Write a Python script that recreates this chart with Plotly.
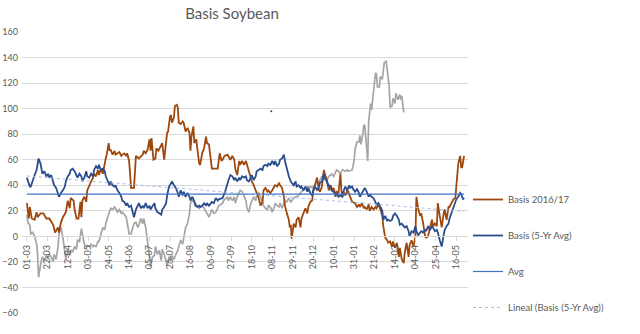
import numpy as np
import plotly.graph_objects as go

# ---------------- data (day offsets from 01-03-2016, values) ----------------
tick_days = [0, 21, 42, 63, 84, 105, 126, 147, 168, 189, 210, 231, 252, 273, 294,
             315, 336, 357, 378, 399, 420, 441]
tick_labels = ["01-03", "22-03", "12-04", "03-05", "24-05", "14-06", "05-07", "26-07",
               "16-08", "06-09", "27-09", "18-10", "08-11", "29-11", "20-12", "10-01",
               "31-01", "21-02", "14-03", "04-04", "25-04", "16-05"]

brown_days = [0, 2, 3, 5, 8, 10, 11, 14, 17, 20, 23, 25, 27, 29, 32, 33, 35, 37, 40, 42, 44, 45,
              48, 49, 51, 53, 55, 56, 57, 59, 61, 62, 64, 66, 68, 69, 71, 73, 74, 76, 78, 80,
              81, 82, 84, 85, 86, 88, 90, 91, 93, 95, 97, 98, 100, 102, 103, 105, 107, 110,
              112, 115, 119, 120, 122, 124, 126, 127, 128, 130, 132, 133, 135, 138, 139, 141,
              143, 144, 145, 147, 148, 149, 151, 152, 154, 155, 156, 158, 160, 161, 163, 165,
              167, 168, 169, 171, 172, 174, 175, 177, 178, 180, 182, 184, 185, 187, 189, 190,
              194, 196, 198, 200, 201, 203, 206, 208, 209, 211, 213, 214, 216, 218, 219, 221,
              223, 225, 226, 228, 230, 231, 233, 235, 236, 238, 240, 242, 243, 245, 247, 248,
              250, 252, 254, 255, 257, 259, 260, 262, 264, 265, 267, 269, 270, 271, 272, 273,
              274, 276, 277, 279, 281, 282, 284, 286, 288, 289, 291, 293, 294, 296, 298, 300,
              301, 303, 305, 306, 308, 310, 312, 313, 315, 317, 318, 320, 322, 323, 324, 325,
              327, 329, 330, 334, 337, 339, 341, 342, 344, 346, 347, 349, 351, 352, 354, 356,
              358, 359, 361, 363, 365, 366, 368, 370, 371, 373, 375, 376, 378, 380, 382, 383,
              385, 387, 388, 390, 392, 393, 395, 397, 399, 400, 402, 404, 405, 407, 409, 410,
              412, 414, 416, 417, 419, 421, 422, 424, 426, 428, 429, 431, 433, 434, 436, 438,
              440, 441, 443, 445, 446, 447, 449]
brown_vals = [26, 14, 23, 14, 13, 19, 15, 18, 18, 14, 14, 11, 9, 3, 7, 3, 11, 15, 19, 28, 22, 30,
              28, 21, 14, 14, 27, 15, 28, 31, 27, 36, 40, 43, 46, 49, 47, 52, 48, 53, 49, 59,
              61, 64, 73, 67, 68, 64, 67, 64, 65, 66, 63, 64, 65, 63, 65, 59, 38, 38,
              63, 61, 64, 67, 65, 68, 76, 67, 77, 60, 61, 69, 67, 72, 73, 60,
              73, 81, 82, 94, 95, 89, 93, 102, 103, 101, 89, 88, 90, 89, 82, 85,
              81, 67, 78, 86, 73, 76, 69, 57, 56, 65, 69, 78, 73, 72, 59, 53,
              53, 53, 65, 59, 60, 63, 64, 61, 60, 63, 60, 53, 48, 59, 56, 59,
              56, 59, 56, 52, 46, 43, 40, 36, 34, 30, 24, 27, 36, 38, 35, 36,
              34, 36, 39, 40, 39, 42, 40, 38, 31, 24, 18, 13, 7, 9, -2, 5,
              10, 7, 13, 15, 7, 14, 18, 22, 18, 23, 27, 28, 35, 40, 46, 36,
              35, 39, 52, 49, 44, 36, 40, 36, 38, 31, 35, 34, 49, 36, 31, 35,
              32, 36, 35, 27, 26, 23, 25, 23, 26, 22, 23, 21, 25, 20, 23, 21,
              23, 22, 25, 21, 16, 8, -1, -3, -5, -4, -8, -4, -9, -5, -16, -9,
              -18, -21, -13, -5, -16, -7, -3, -8, 0, 31, 21, 16, 18, 10, 0, -1,
              0, 7, 13, 8, 10, 8, 26, 16, 7, 18, 21, 13, 23, 23, 26, 29,
              30, 42, 57, 63, 54, 54, 63]

blue_days = [0, 1, 3, 4, 6, 8, 10, 11, 12, 14, 15, 16, 18, 20, 22, 23, 25, 27, 28, 30, 32, 33,
             35, 37, 39, 40, 42, 44, 45, 47, 49, 51, 52, 54, 56, 57, 59, 61, 62, 64, 66, 68,
             69, 71, 73, 74, 76, 78, 80, 81, 83, 85, 86, 88, 90, 91, 93, 95, 97, 98, 100, 102,
             103, 105, 107, 109, 110, 112, 114, 115, 117, 119, 120, 122, 124, 126, 127, 129,
             131, 132, 134, 136, 138, 139, 141, 143, 144, 146, 148, 149, 151, 153, 155, 156,
             158, 160, 161, 163, 165, 167, 168, 170, 172, 173, 175, 177, 178, 180, 182, 184,
             185, 187, 189, 190, 192, 194, 196, 197, 201, 204, 207, 209, 211, 213, 214, 216,
             218, 219, 221, 223, 225, 226, 228, 230, 231, 233, 235, 236, 238, 240, 242, 243,
             245, 247, 248, 250, 252, 254, 255, 257, 259, 260, 262, 264, 265, 267, 269, 271,
             272, 274, 276, 277, 279, 281, 282, 284, 286, 288, 289, 291, 293, 294, 296, 298,
             300, 301, 303, 305, 306, 308, 310, 312, 313, 315, 317, 318, 320, 322, 324, 325,
             327, 329, 331, 332, 334, 335, 337, 339, 341, 342, 344, 346, 347, 349, 351, 352,
             354, 356, 358, 359, 361, 363, 365, 366, 368, 370, 371, 373, 375, 376, 378, 380,
             382, 383, 385, 387, 388, 390, 392, 393, 395, 397, 399, 400, 402, 404, 405, 407,
             409, 410, 412, 414, 416, 417, 419, 421, 422, 424, 426, 428, 429, 431, 433, 434,
             436, 438, 440, 441, 443, 445, 446, 448, 449]
blue_vals = [46, 44, 39, 39, 44, 48, 52, 56, 61, 57, 53, 49, 51, 47, 49, 46, 48, 43, 40, 38, 34, 31,
             34, 36, 39, 43, 47, 49, 52, 53, 51, 48, 46, 49, 47, 43, 46, 51, 47, 46, 49, 47,
             52, 55, 53, 56, 52, 53, 51, 47, 44, 40, 43, 40, 39, 40, 36, 34, 31, 28, 27, 24,
             26, 23, 24, 19, 15, 21, 24, 26, 22, 24, 22, 26, 22, 24, 21, 24,
             26, 22, 19, 18, 17, 21, 23, 26, 32, 39, 42, 43, 40, 38, 34, 31,
             36, 32, 35, 31, 34, 31, 28, 31, 27, 24, 23, 24, 23, 24, 26, 24,
             26, 24, 26, 27, 26, 30, 28, 29, 30, 36, 44, 48, 47, 44, 46, 43,
             46, 44, 47, 46, 47, 44, 43, 46, 48, 44, 47, 51, 52, 53, 52, 55,
             56, 55, 57, 56, 59, 56, 59, 55, 57, 60, 61, 64, 59, 52, 47, 43,
             42, 40, 43, 39, 40, 38, 39, 36, 39, 35, 38, 34, 32, 36, 39, 36,
             39, 42, 43, 49, 46, 43, 40, 39, 36, 35, 32, 34, 31, 32, 31, 35,
             39, 36, 40, 38, 39, 37, 35, 37, 34, 31, 34, 37, 38, 35, 31, 33,
             31, 30, 27, 25, 26, 23, 20, 13, 16, 12, 13, 12, 13, 16, 18, 16,
             13, 9, 10, 8, 7, 8, 4, 0, 4, 3, 8, 4, 1, 3, 4, 3,
             5, 4, 8, 5, 8, 7, 4, 5, 3, -3, -8, 1, 5, 8, 10, 14,
             18, 22, 26, 29, 31, 34, 33, 29, 30]

gray_days = [0, 1, 3, 4, 6, 8, 10, 11, 12, 14, 15, 16, 18, 20, 22, 23, 25, 27, 28, 30, 32, 33,
             35, 37, 39, 40, 42, 44, 45, 47, 49, 51, 52, 54, 56, 57, 59, 61, 62, 64, 66, 68,
             69, 71, 73, 74, 76, 78, 80, 81, 83, 85, 86, 88, 90, 91, 93, 95, 97, 98, 100, 102,
             103, 105, 107, 109, 110, 112, 114, 115, 117, 119, 120, 122, 124, 126, 127, 129,
             131, 132, 134, 136, 138, 139, 141, 143, 144, 146, 148, 149, 151, 153, 155, 156,
             158, 160, 161, 163, 165, 167, 168, 170, 172, 173, 175, 177, 178, 180, 182, 184,
             185, 187, 189, 190, 192, 194, 196, 197, 201, 202, 206, 207, 209, 211, 213, 214,
             216, 218, 219, 221, 223, 225, 226, 228, 230, 231, 233, 235, 236, 238, 240, 242,
             243, 245, 247, 248, 250, 252, 254, 255, 257, 259, 260, 262, 264, 265, 267, 269,
             271, 272, 274, 276, 277, 279, 281, 282, 284, 286, 288, 289, 291, 293, 294, 296,
             298, 300, 301, 303, 305, 306, 308, 310, 312, 313, 315, 317, 318, 320, 322, 324,
             325, 327, 329, 330, 334, 336, 337, 339, 341, 342, 343, 345, 346, 347, 348, 350,
             351, 352, 353, 354, 356, 358, 359, 360, 362, 363, 365, 366, 367, 369, 370, 372,
             373, 375, 376, 378, 379, 381, 383, 384, 385, 386, 387]
gray_vals = [17, 11, 9, 2, 3, 0, -6, -14, -32, -22, -18, -16, -19, -15, -18, -14, -16, -20, -14, -18, -8, 2,
             7, -1, -14, -18, -11, -15, -11, -12, -8, -10, -3, -4, 6, 2, -6, -8, -7, -8, -6, -8,
             -7, -8, -4, -4, 2, 7, 5, 10, 15, 19, 22, 21, 23, 22, 19, 21, 18, 19, 17, 15,
             11, 2, 2, 7, 10, 11, 7, 9, 14, 10, 14, 7, -3, -16, -24, -16,
             -15, -8, -14, -11, -19, -10, -14, -22, -23, -16, -19, -15, -18, -14, -11, -8,
             -3, -6, -1, 7, 10, 18, 26, 28, 27, 26, 24, 22, 23, 24, 22, 19,
             18, 15, 19, 21, 18, 19, 22, 24, 26, 28, 31, 28, 31, 28, 31, 26,
             31, 35, 36, 35, 31, 28, 22, 19, 26, 28, 31, 28, 32, 34, 31, 27,
             24, 22, 21, 24, 23, 19, 23, 26, 24, 23, 26, 22, 26, 28, 27, 30,
             27, 28, 30, 31, 31, 32, 34, 35, 36, 38, 39, 38, 39, 38, 39, 40,
             43, 42, 44, 47, 44, 46, 44, 47, 48, 49, 47, 51, 52, 51, 49, 52,
             52, 51, 52, 51, 52, 59, 68, 74, 74, 79, 72, 80, 87, 87, 78, 59,
             90, 98, 104, 99, 113, 128, 127, 117, 117, 125, 123, 128, 136, 137, 131, 118,
             101, 102, 108, 104, 112, 107, 111, 107, 110, 101, 97]

avg_value = 33
stray_day = [251]
stray_val = [98]

# ---------------- styling ----------------
FONT = "Lato, 'Open Sans', sans-serif"
TXT = "#595959"
GRID = "#d9d9d9"
BROWN = "#9E480E"
BLUE = "#2B4D8E"
LIGHTBLUE = "#4472C4"
GRAY = "#A5A5A5"
TREND = "#A9BEE0"

# linear trend of the 5-yr avg series
coef = np.polyfit(blue_days, blue_vals, 1)
trend_x = [blue_days[0], blue_days[-1]]
trend_y = list(np.polyval(coef, trend_x))

fig = go.Figure()
fig.add_trace(go.Scatter(x=gray_days, y=gray_vals, mode="lines", name="Basis 2015/16",
                         line=dict(color=GRAY, width=1.7), showlegend=False))
fig.add_trace(go.Scatter(x=brown_days, y=brown_vals, mode="lines", name="Basis 2016/17",
                         line=dict(color=BROWN, width=1.8), legendgroup="a"))
fig.add_trace(go.Scatter(x=blue_days, y=blue_vals, mode="lines", name="Basis (5-Yr Avg)",
                         line=dict(color=BLUE, width=1.8), legendgroup="b"))
fig.add_trace(go.Scatter(x=[blue_days[0], blue_days[-1]], y=[avg_value, avg_value],
                         mode="lines", name="Avg", line=dict(color=LIGHTBLUE, width=1.2),
                         legendgroup="c"))
fig.add_trace(go.Scatter(x=trend_x, y=trend_y, mode="lines",
                         name="Lineal (Basis (5-Yr Avg))",
                         line=dict(color=TREND, width=1, dash="dot"), legendgroup="d"))
fig.add_trace(go.Scatter(x=stray_day, y=stray_val, mode="markers", showlegend=False,
                         marker=dict(color=BLUE, size=2)))

ymin, ymax = -60, 160
fig.update_layout(
    width=640, height=334,
    margin=dict(l=22, r=172, t=32, b=21),
    paper_bgcolor="white", plot_bgcolor="white",
    font=dict(family=FONT, size=9, color=TXT),
    title=dict(text="Basis Soybean", x=232 / 640, xanchor="center", xref="container",
               y=1 - 14 / 334, yanchor="middle", yref="container",
               font=dict(family=FONT, size=15, color=TXT)),
    showlegend=True,
    legend=dict(x=1.0, xanchor="left", y=(313 - 185) / 281, yanchor="top",
                font=dict(family=FONT, size=9.5, color=TXT),
                tracegroupgap=17, traceorder="grouped", itemwidth=30,
                bgcolor="rgba(0,0,0,0)"),
    xaxis=dict(range=[-5, 453], tickvals=tick_days, ticktext=tick_labels, tickangle=-90,
               anchor="free", position=(0 - ymin) / (ymax - ymin), automargin=False,
               showgrid=False, zeroline=False, showline=True, linecolor=GRID, linewidth=1,
               ticks="outside", ticklen=4, tickcolor=GRID,
               tickfont=dict(family=FONT, size=9, color=TXT)),
    yaxis=dict(range=[ymin, ymax], dtick=20, showgrid=True, gridcolor=GRID, gridwidth=1,
               zeroline=False, showline=False, ticks="", automargin=False,
               ticklabelstandoff=3,
               tickfont=dict(family=FONT, size=9, color=TXT)),
)

fig.write_html("out.html")
